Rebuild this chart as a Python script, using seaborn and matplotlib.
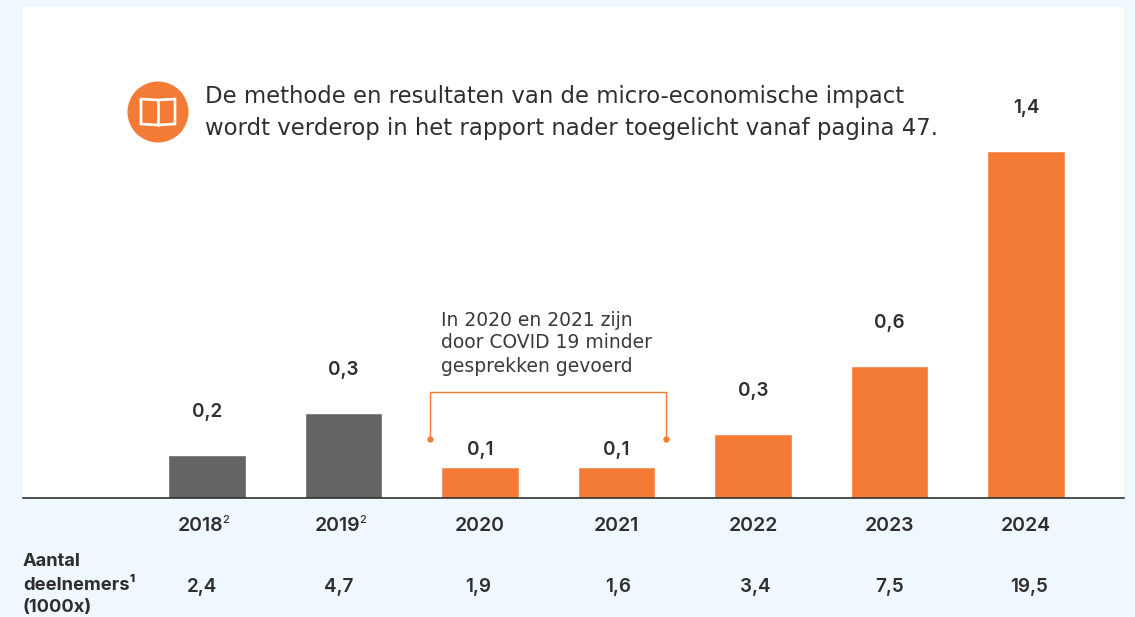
import matplotlib
matplotlib.use("Agg")
import matplotlib.pyplot as plt
import matplotlib.transforms as mtrans
import pandas as pd
import seaborn as sns
from matplotlib.patches import Circle

# values, labels as printed
years = ["2018", "2019", "2020", "2021", "2022", "2023", "2024"]
impact = [0.17, 0.34, 0.125, 0.125, 0.255, 0.53, 1.40]
impact_labels = ["0,2", "0,3", "0,1", "0,1", "0,3", "0,6", "1,4"]
participants = ["2,4", "4,7", "1,9", "1,6", "3,4", "7,5", "19,5"]

GREY = "#636466"
ORANGE = "#F47B36"
BG = "#EFF8FE"
TEXT = "#2E2E2E"
PROSE = ["DejaVu Sans"]
bar_colors = [GREY, GREY, ORANGE, ORANGE, ORANGE, ORANGE, ORANGE]

sns.set_theme(style="white")
plt.rcParams["font.family"] = ["Inter", "DejaVu Sans"]

df = pd.DataFrame({"year": years, "impact": impact})

fig = plt.figure(figsize=(11.35, 6.17), dpi=100, facecolor=BG)
# white panel: x 23-1124, y 7-498 in pixels
ax = fig.add_axes([23 / 1135, 1 - 497.6 / 617, 1101 / 1135, 490.6 / 617], facecolor="white")
sns.barplot(data=df, x="year", y="impact", hue="year", palette=bar_colors,
            width=0.565, legend=False, ax=ax, saturation=1)
ax.set_xlim(-1.348, 6.718)
ax.set_ylim(0, 1.98)
ax.set_xlabel("")
ax.set_ylabel("")
ax.set_yticks([])
ax.tick_params(axis="x", length=0, pad=14, labelsize=14)
for lab in ax.get_xticklabels():
    lab.set_color(TEXT)
    lab.set_fontweight("semibold")
    # the footnoted years sit left of the bar centre to make room for the superscript
    if lab.get_text() in ("2018", "2019"):
        lab.set_transform(lab.get_transform() + mtrans.Affine2D().translate(-6, 0))
sns.despine(ax=ax, left=True, top=True, right=True)
ax.spines["bottom"].set_color("#222222")
ax.spines["bottom"].set_linewidth(1.1)

# value labels, the two small bars sit closer to their label
for i, lab in enumerate(impact_labels):
    off = 17 if lab == "0,1" else 43
    ax.annotate(lab, (i, impact[i]), xytext=(0, off * 0.72), textcoords="offset points",
                ha="center", va="center", fontsize=13.6, color=TEXT, fontweight="semibold")

# overlay in pixel coordinates for the notes around the chart
ov = fig.add_axes([0, 0, 1, 1], facecolor="none")
ov.set_xlim(0, 1135)
ov.set_ylim(617, 0)
ov.axis("off")

ov.text(205, 96, "De methode en resultaten van de micro-economische impact",
        fontsize=16.4, color=TEXT, va="center", family=PROSE)
ov.text(205, 129, "wordt verderop in het rapport nader toegelicht vanaf pagina 47.",
        fontsize=16.4, color=TEXT, va="center", family=PROSE)

# book icon
ov.add_patch(Circle((158, 112), 30.5, color=ORANGE, lw=0))
ov.plot([141, 141, 158, 175, 175, 158, 141], [99, 124, 125, 124, 99, 100, 99],
        color="white", lw=1.9, solid_joinstyle="miter")
ov.plot([158, 158], [100, 125], color="white", lw=1.9)

# covid note with bracket
for y, line in zip([320, 343, 366], ["In 2020 en 2021 zijn", "door COVID 19 minder", "gesprekken gevoerd"]):
    ov.text(441, y, line, fontsize=13.5, color="#3A3A3A", va="center", family=PROSE)
ov.plot([430, 430, 666, 666], [438, 392, 392, 438], color=ORANGE, lw=1)
ov.plot([430, 666], [439, 439], "o", color=ORANGE, ms=4.5, mew=0)

# footnote marks on the first two years
for x in [226, 363]:
    ov.text(x, 520, "2", fontsize=8, color=TEXT, ha="center", va="center", fontweight="medium")

# participants row
row_x = [202, 339, 478, 618, 755, 890, 1029]
for x, val in zip(row_x, participants):
    ov.text(x, 587, val, fontsize=13.6, color=TEXT, ha="center", va="center", fontweight="semibold")
ov.text(23, 561, "Aantal", fontsize=13.2, color=TEXT, fontweight="bold", va="center")
ov.text(23, 585, "deelnemers¹", fontsize=13.2, color=TEXT, fontweight="bold", va="center")
ov.text(23, 607, "(1000x)", fontsize=13.2, color=TEXT, fontweight="bold", va="center")

fig.savefig("out.png", dpi=100, facecolor=BG)
